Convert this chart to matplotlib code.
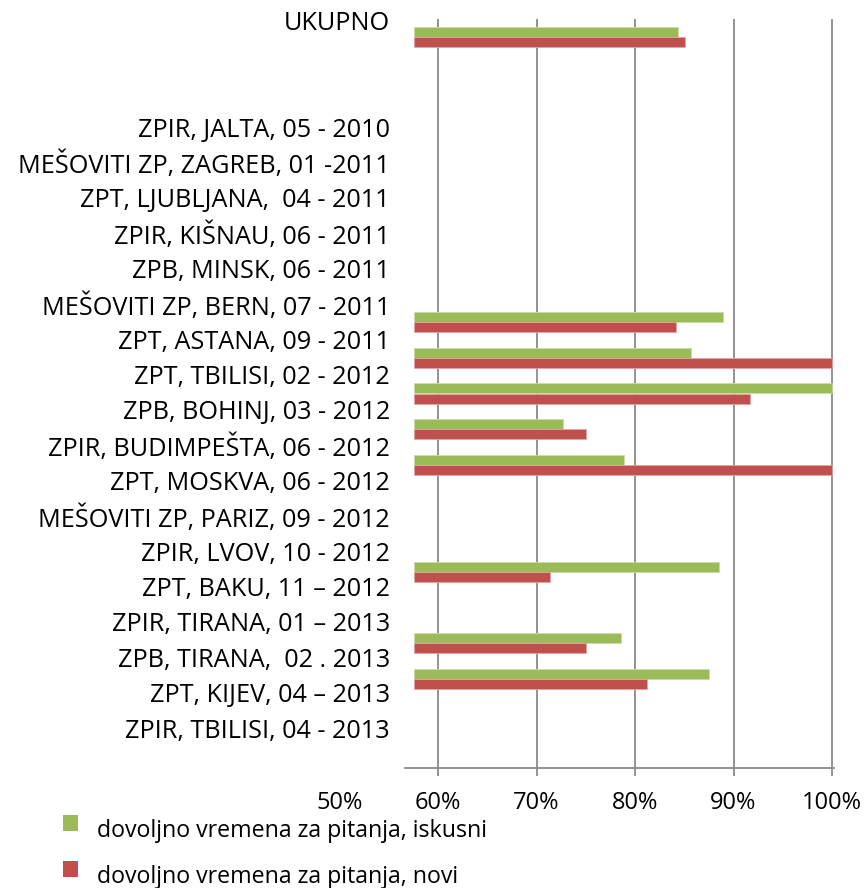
import matplotlib
matplotlib.use("Agg")
import matplotlib.pyplot as plt
import matplotlib.transforms as mtransforms
from matplotlib.patches import Patch, Rectangle
from matplotlib.legend_handler import HandlerPatch
import numpy as np

plt.rcParams['font.family'] = ['Open Sans', 'DejaVu Sans']

categories = [
    "UKUPNO", "", "",
    "ZPIR, JALTA, 05 - 2010",
    "MEŠOVITI ZP, ZAGREB, 01 -2011",
    "ZPT, LJUBLJANA,  04 - 2011",
    "ZPIR, KIŠNAU, 06 - 2011",
    "ZPB, MINSK, 06 - 2011",
    "MEŠOVITI ZP, BERN, 07 - 2011",
    "ZPT, ASTANA, 09 - 2011",
    "ZPT, TBILISI, 02 - 2012",
    "ZPB, BOHINJ, 03 - 2012",
    "ZPIR, BUDIMPEŠTA, 06 - 2012",
    "ZPT, MOSKVA, 06 - 2012",
    "MEŠOVITI ZP, PARIZ, 09 - 2012",
    "ZPIR, LVOV, 10 - 2012",
    "ZPT, BAKU, 11 – 2012",
    "ZPIR, TIRANA, 01 – 2013",
    "ZPB, TIRANA,  02 . 2013",
    "ZPT, KIJEV, 04 – 2013",
    "ZPIR, TBILISI, 04 - 2013",
]

# values per bar slot (as drawn in the original chart), in percent
iskusni = [84.4, None, None, None, None, None, None, None,
           88.9, 85.7, 100.0, 72.7, 78.9, None, None, 88.5, None, 78.6, 87.5, None, None]
novi = [85.1, None, None, None, None, None, None, None,
        84.2, 100.0, 91.7, 75.0, 100.0, None, None, 71.4, None, 75.0, 81.25, None, None]

series_names = ["dovoljno vremena za pitanja, iskusni", "dovoljno vremena za pitanja, novi"]
x_ticks = [60, 70, 80, 90, 100]
x_tick_labels = ["60%", "70%", "80%", "90%", "100%"]
hidden_tick_label = "50%"

GREEN = "#9BBB59"
RED = "#C0504D"
GRID = "#8A8A8A"

W, H = 865, 888
fig = plt.figure(figsize=(W / 100, H / 100), dpi=100)

L_px, R_px, T_px, B_px = 405, 834, 19, 768
ax = fig.add_axes([L_px / W, 1 - B_px / H, (R_px - L_px) / W, (B_px - T_px) / H])

px_per_pct = (832 - 438) / 40.0
xmin = 60 - (438 - L_px) / px_per_pct
xmax = 100 + (R_px - 832) / px_per_pct
bar_base = 60 - (438 - 414) / px_per_pct

n = len(categories)
ax.set_ylim(n - 0.5, -0.5)
ax.set_xlim(xmin, xmax)

bh = 0.286
ys = np.arange(n)
g = np.array([np.nan if v is None else v for v in iskusni])
r = np.array([np.nan if v is None else v for v in novi])
mg = ~np.isnan(g)
mr = ~np.isnan(r)
ax.barh(ys[mg] - bh / 2, g[mg] - bar_base, left=bar_base, height=bh,
        color=GREEN, edgecolor="#C9DBA6", linewidth=0.6, zorder=3)
ax.barh(ys[mr] + bh / 2, r[mr] - bar_base, left=bar_base, height=bh,
        color=RED, edgecolor="#E3A5A3", linewidth=0.6, zorder=3)

TICK_FS = 17
LABEL_FS = 18.2
LEG_FS = 16.7
TICK_LEN = 5.8
TICK_PAD = 11.0

ax.set_xticks(x_ticks)
ax.set_xticklabels(x_tick_labels)
ax.grid(axis='x', color=GRID, linewidth=1.3, zorder=1)
ax.set_axisbelow(True)

for s in ['top', 'right', 'left']:
    ax.spines[s].set_visible(False)
ax.spines['bottom'].set_color(GRID)
ax.spines['bottom'].set_linewidth(1.3)

ax.tick_params(axis='x', direction='out', length=TICK_LEN, width=1.3, color=GRID,
               pad=TICK_PAD, labelsize=TICK_FS, labelcolor='black')

# category labels (their spacing in the original differs slightly from the bar slots)
slot_px = (B_px - T_px) / n
label_pitch_px = 35.35
label_pos = [(21 + label_pitch_px * j - T_px) / slot_px - 0.5 for j in range(n)]
ax.set_yticks(label_pos)
ax.set_yticklabels(categories)
ax.tick_params(axis='y', length=0, pad=10.8, labelsize=LABEL_FS, labelcolor='black')

# partially hidden 50% label, at the same height as the other tick labels
trans = mtransforms.blended_transform_factory(ax.transData, ax.transAxes)
trans = trans + mtransforms.ScaledTranslation(0, -(TICK_LEN + TICK_PAD) / 72, fig.dpi_scale_trans)
ax.text(50, 0, hidden_tick_label, transform=trans, ha='center', va='top',
        fontsize=TICK_FS, clip_on=False)


def raised_square(legend, orig_handle, xdescent, ydescent, width, height, fontsize):
    return Rectangle((-xdescent, -ydescent + 4.0), width, height)


handles = [Patch(facecolor=GREEN, edgecolor='none'), Patch(facecolor=RED, edgecolor='none')]
leg = fig.legend(handles, series_names, loc='upper left',
                 bbox_to_anchor=(55 / W, 1 - 811 / H), fontsize=LEG_FS,
                 frameon=True, fancybox=False, edgecolor='none', facecolor='white',
                 framealpha=1, handlelength=0.65, handleheight=0.65,
                 handletextpad=0.82, labelspacing=0.95, borderpad=0.33,
                 borderaxespad=0,
                 handler_map={Patch: HandlerPatch(patch_func=raised_square)})

fig.savefig("out.png", dpi=100)
